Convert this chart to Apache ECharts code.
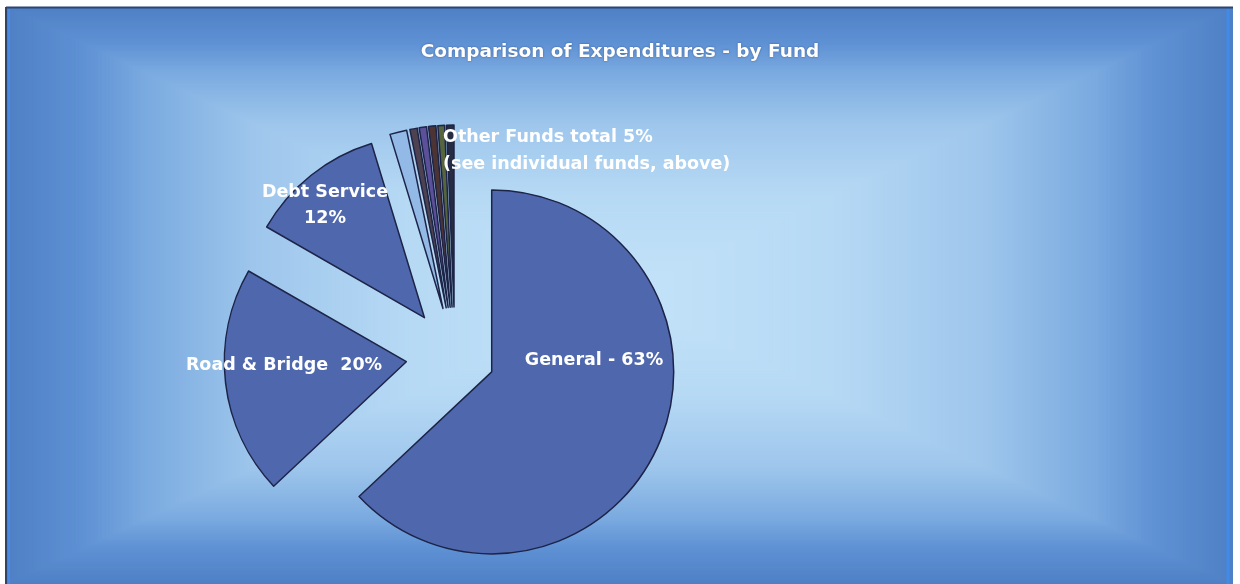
<!DOCTYPE html>
<html>
<head>
<meta charset="utf-8">
<script src="https://cdn.jsdelivr.net/npm/echarts@6/dist/echarts.min.js"></script>
<style>
  html, body { margin: 0; padding: 0; background: #ffffff; }
  #chart { width: 1240px; height: 584px; }
</style>
</head>
<body>
<div id="chart"></div>
<script>
// ---- data ----
const chartTitle = 'Comparison of Expenditures - by Fund';
const fundNames = ['General', 'Road & Bridge', 'Debt Service',
                   'Other fund 1', 'Other fund 2', 'Other fund 3',
                   'Other fund 4', 'Other fund 5', 'Other fund 6'];
const fundShares = [63.0, 20.3, 12.0, 1.5, 0.65, 0.65, 0.65, 0.6, 0.65];
const otherFundsNote = '(see individual funds, above)';
const firstOtherIndex = 3;

// ---- styling ----
const sliceColors = ['#4f67ad', '#4f67ad', '#4f67ad',
                     '#93b9e6', '#4e4150', '#5d509a', '#4d3434', '#56653e', '#262c42'];
const sliceBorder = '#1c2448';
const textFont = 'DejaVu Sans';

const frame = { x0: 6, y0: 7, x1: 1233, y1: 584 };
const cx = (frame.x0 + frame.x1) / 2, cy = (frame.y0 + frame.y1) / 2;
// rectangular "from centre" fill: s = 0 at the frame edge, 1 at the centre
const bgStops = [
  [0.00, [79, 128, 197]], [0.12, [94, 144, 212]], [0.22, [121, 169, 223]],
  [0.40, [158, 198, 236]], [0.65, [182, 217, 244]], [1.00, [196, 227, 249]]
];
function bgColor(s) {
  for (let k = 1; k < bgStops.length; k++) {
    if (s <= bgStops[k][0]) {
      const a = bgStops[k - 1], b = bgStops[k];
      const t = (s - a[0]) / (b[0] - a[0]);
      const c = a[1].map((v, j) => Math.round(v + (b[1][j] - v) * t));
      return 'rgb(' + c.join(',') + ')';
    }
  }
  return 'rgb(' + bgStops[bgStops.length - 1][1].join(',') + ')';
}
const bgSteps = 160;
const bgRects = [];
for (let k = 0; k < bgSteps; k++) {
  const f = 1 - k / bgSteps;          // fraction of the half-size
  const hw = (cx - frame.x0) * f, hh = (cy - frame.y0) * f;
  bgRects.push({
    type: 'rect', silent: true, z: 0,
    shape: { x: cx - hw, y: cy - hh, width: hw * 2, height: hh * 2 },
    style: { fill: bgColor(k / bgSteps), stroke: null }
  });
}

// label anchor points: [x, y, align, lineHeight]
const labelSpots = {
  0: [594, 360, 'center', 26],
  1: [284, 365, 'center', 26],
  2: [325, 205, 'center', 26],
  3: [443, 151, 'left', 27]
};

const total = fundShares.reduce((a, b) => a + b, 0);
const otherTotal = fundShares.slice(firstOtherIndex).reduce((a, b) => a + b, 0);

function labelText(i) {
  const pct = Math.round(fundShares[i] / total * 100);
  switch (i) {
    case 0: return fundNames[i] + ' - ' + pct + '%';
    case 1: return fundNames[i] + '  ' + pct + '%';
    case 2: return fundNames[i] + '\n' + pct + '%';
    case firstOtherIndex:
      return 'Other Funds total ' + Math.round(otherTotal / total * 100) + '%\n' + otherFundsNote;
  }
  return '';
}

const labelEls = Object.keys(labelSpots).map(function (key) {
  const i = +key, s = labelSpots[key];
  return {
    type: 'text', silent: true, z: 10,
    style: {
      text: labelText(i), x: s[0], y: s[1], align: s[2], verticalAlign: 'middle',
      lineHeight: s[3], fill: '#ffffff',
      font: 'bold 17.5px "' + textFont + '"',
      shadowColor: 'rgba(20,40,90,0.55)', shadowBlur: 2
    }
  };
});

// one pie per explode distance; slices not belonging to a pie stay invisible there
function pieSeries(offset, owns) {
  return {
    type: 'pie',
    center: [455, 356],
    radius: [0, 182],
    startAngle: 90,
    clockwise: true,
    selectedMode: 'multiple',
    selectedOffset: offset,
    avoidLabelOverlap: false,
    animation: false,
    emphasis: { disabled: true },
    label: { show: false },
    labelLine: { show: false },
    data: fundShares.map(function (v, i) {
      const mine = owns(i);
      return {
        name: fundNames[i],
        value: v,
        selected: mine,
        itemStyle: mine
          ? { color: sliceColors[i], borderColor: sliceBorder, borderWidth: 1.5 }
          : { color: 'rgba(0,0,0,0)', borderWidth: 0 }
      };
    })
  };
}

const frameLines = [
  { type: 'line', silent: true, z: 2,
    shape: { x1: frame.x0, y1: frame.y0 + 0.5, x2: frame.x1, y2: frame.y0 + 0.5 },
    style: { stroke: '#2b4574', lineWidth: 2 } },
  { type: 'line', silent: true, z: 2,
    shape: { x1: frame.x0, y1: frame.y0, x2: frame.x0, y2: frame.y1 },
    style: { stroke: '#33445e', lineWidth: 2 } },
  { type: 'line', silent: true, z: 2,
    shape: { x1: frame.x0 + 3, y1: frame.y0 + 2, x2: frame.x0 + 3, y2: frame.y1 },
    style: { stroke: '#4a8ae6', lineWidth: 2 } },
  { type: 'line', silent: true, z: 2,
    shape: { x1: frame.x1 - 5, y1: frame.y0 + 2, x2: frame.x1 - 5, y2: frame.y1 },
    style: { stroke: '#3f8be6', lineWidth: 3 } }
];

const chart = echarts.init(document.getElementById('chart'), null, { renderer: 'canvas' });
chart.setOption({
  backgroundColor: '#ffffff',
  title: {
    text: chartTitle,
    left: 'center',
    top: 38,
    textStyle: {
      color: '#ffffff', fontFamily: textFont, fontWeight: 'bold', fontSize: 18.5,
      textShadowColor: 'rgba(20,40,90,0.55)', textShadowBlur: 2
    }
  },
  graphic: bgRects.concat(frameLines, labelEls),
  series: [
    pieSeries(40, function (i) { return i === 0; }),
    pieSeries(49, function (i) { return i !== 0; })
  ]
});
</script>
</body>
</html>
